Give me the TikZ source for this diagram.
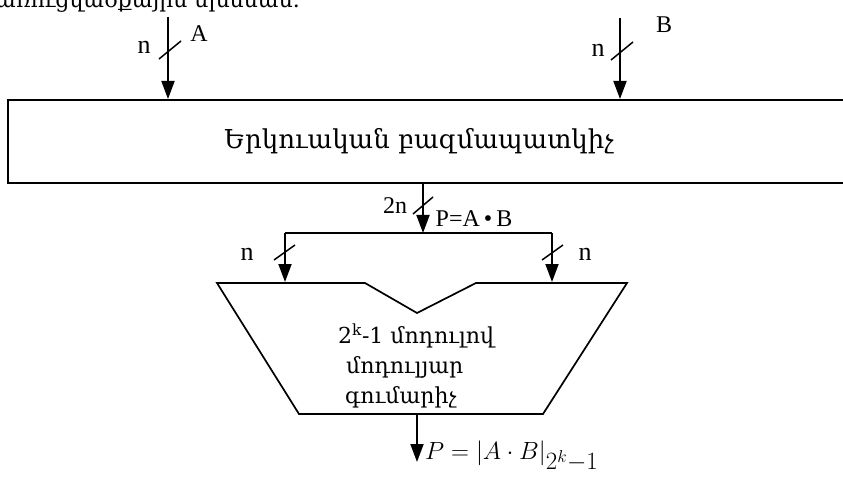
\documentclass[tikz,border=0pt]{standalone}
\usepackage{fontspec}
\setmainfont{Liberation Serif}
\newfontfamily\arm{DejaVu Serif}
\usetikzlibrary{arrows.meta}
\begin{document}
\begin{tikzpicture}[x=1pt,y=-1pt,
  wire/.style={line width=1.9pt},
  boxline/.style={line width=2.3pt},
  arr/.style={wire,-{Triangle[length=18pt,width=13pt]}},
  slashmark/.style={line width=1.5pt},
  lbl/.style={font=\fontsize{26}{28}\selectfont, inner sep=0pt},
  caplbl/.style={font=\fontsize{24}{26}\selectfont, inner sep=0pt},
  armtext/.style={font=\arm\fontsize{22}{24}\selectfont, inner sep=0pt}]
\useasboundingbox (0,0) rectangle (843,481);
\clip (0,0) rectangle (843,481);
% cut-off caption at the top
\node[armtext, anchor=base east] (caption) at (300,8) {կառուցվածքային սխեման.};
% multiplier box (right side runs off the picture)
\coordinate (boxTR) at (870,100);
\coordinate (boxTL) at (8,100);
\coordinate (boxBL) at (8,183);
\coordinate (boxBR) at (870,183);
\draw[boxline] (boxTR) -- (boxTL) -- (boxBL) -- (boxBR);
\node[armtext, font=\arm\fontsize{26}{28}\selectfont] (multlabel) at (419,141) {Երկուական բազմապատկիչ};
% input A
\coordinate (aIn) at (168,17);
\coordinate (aOut) at (168,99);
\draw[arr] (aIn) -- (aOut);
\draw[slashmark] (159,59) -- (181,41);
\node[lbl] (nA) at (144,47) {n};
\node[caplbl] (labA) at (199,34) {A};
% input B
\coordinate (bIn) at (620,18);
\coordinate (bOut) at (620,99);
\draw[arr] (bIn) -- (bOut);
\draw[slashmark] (611,60) -- (633,42);
\node[lbl] (nB) at (598,50) {n};
\node[caplbl] (labB) at (664,25) {B};
% product bus
\coordinate (pOut) at (423,184);
\coordinate (split) at (423,233);
\draw[arr] (pOut) -- (split);
\draw[slashmark] (413,214) -- (433,197);
\node[caplbl] (n2) at (395,206) {2n};
\node[caplbl] (prod) at (474,219) {P=A\,•\,B};
\coordinate (splitL) at (285,233);
\coordinate (splitR) at (552,233);
\coordinate (inL) at (285,282);
\coordinate (inR) at (552,282);
\draw[wire] (splitL) -- (splitR);
\draw[arr] (splitL) -- (inL);
\draw[arr] (splitR) -- (inR);
\draw[slashmark] (274,260) -- (295,245);
\draw[slashmark] (542,260) -- (563,245);
\node[lbl] (nL) at (247,254) {n};
\node[lbl] (nR) at (585,254) {n};
% modular adder trapezoid
\coordinate (tA) at (217,283);
\coordinate (tB) at (365,283);
\coordinate (tV) at (417,313);
\coordinate (tC) at (476,283);
\coordinate (tD) at (627,283);
\coordinate (tE) at (543,414);
\coordinate (tF) at (299,414);
\draw[line width=1.7pt, line join=miter] (tA) -- (tB) -- (tV) -- (tC) -- (tD) -- (tE) -- (tF) -- cycle;
\node[armtext, anchor=base west] (addA) at (338,343) {2\textsuperscript{k}-1 մոդուլով};
\node[armtext, anchor=base west] (addB) at (346,373) {մոդուլյար};
\node[armtext, anchor=base west] (addC) at (345,403) {գումարիչ};
% output
\coordinate (outEnd) at (417,462);
\draw[arr] (tV |- tF) -- (outEnd);
\node[anchor=base west, inner sep=0pt, font=\fontsize{33}{35}\selectfont] (res) at (425,459) {$P=|A\cdot B|_{2^k-1}$};
\end{tikzpicture}
\end{document}
